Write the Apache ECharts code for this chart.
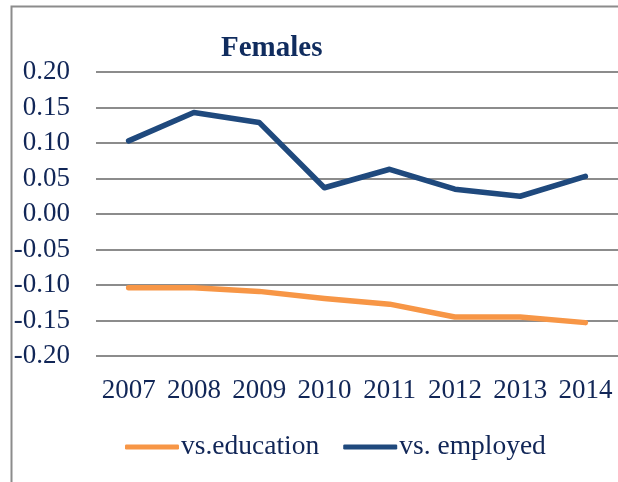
<!DOCTYPE html>
<html>
<head>
<meta charset="utf-8">
<script src="https://cdn.jsdelivr.net/npm/echarts@6/dist/echarts.min.js"></script>
<style>
  html, body { margin: 0; padding: 0; background: #fff; }
  #chart { width: 618px; height: 482px; }
</style>
</head>
<body>
<div id="chart"></div>
<script>
// data
const years = ['2007', '2008', '2009', '2010', '2011', '2012', '2013', '2014'];
const vsEducation = [-0.104, -0.104, -0.109, -0.119, -0.127, -0.145, -0.145, -0.153];
const vsEmployed = [0.103, 0.143, 0.129, 0.037, 0.063, 0.035, 0.025, 0.053];

const textColor = '#112657';
const font = 'Liberation Serif';

const chart = echarts.init(document.getElementById('chart'));

const option = {
  animation: false,
  backgroundColor: '#fff',
  graphic: [
    {
      type: 'rect',
      left: 9,
      top: 4,
      shape: { width: 700, height: 600 },
      style: { fill: 'none', stroke: '#8c8c8c', lineWidth: 2 },
      z: 10
    }
  ],
  title: {
    text: 'Females',
    left: 216,
    top: 29,
    textStyle: {
      fontFamily: font,
      fontSize: 29,
      fontWeight: 'bold',
      color: '#102c5e'
    }
  },
  legend: {
    bottom: 16,
    left: 120,
    itemWidth: 54,
    itemHeight: 5,
    itemGap: 24,
    icon: 'roundRect',
    textStyle: {
      fontFamily: font,
      fontSize: 27.5,
      color: textColor,
      padding: [0, 0, 0, -3]
    },
    data: ['vs.education', 'vs. employed']
  },
  grid: {
    left: 96,
    right: -5,
    top: 72,
    bottom: 126
  },
  xAxis: {
    type: 'category',
    data: years,
    boundaryGap: true,
    axisLine: { show: false },
    axisTick: { show: false },
    axisLabel: {
      fontFamily: font,
      fontSize: 27,
      color: textColor,
      margin: 21,
      interval: 0
    }
  },
  yAxis: {
    type: 'value',
    min: -0.2,
    max: 0.2,
    interval: 0.05,
    axisLine: { show: false },
    axisTick: { show: false },
    axisLabel: {
      fontFamily: font,
      fontSize: 27,
      color: textColor,
      margin: 26,
      formatter: v => v.toFixed(2)
    },
    splitLine: {
      lineStyle: { color: '#8c8c8c', width: 2 }
    }
  },
  series: [
    {
      name: 'vs.education',
      type: 'line',
      data: vsEducation,
      symbol: 'none',
      color: '#f79646',
      lineStyle: { width: 5.5, cap: 'round', join: 'round' }
    },
    {
      name: 'vs. employed',
      type: 'line',
      data: vsEmployed,
      symbol: 'none',
      color: '#1f497d',
      lineStyle: { width: 5.5, cap: 'round', join: 'round' }
    }
  ]
};

chart.setOption(option);
</script>
</body>
</html>
